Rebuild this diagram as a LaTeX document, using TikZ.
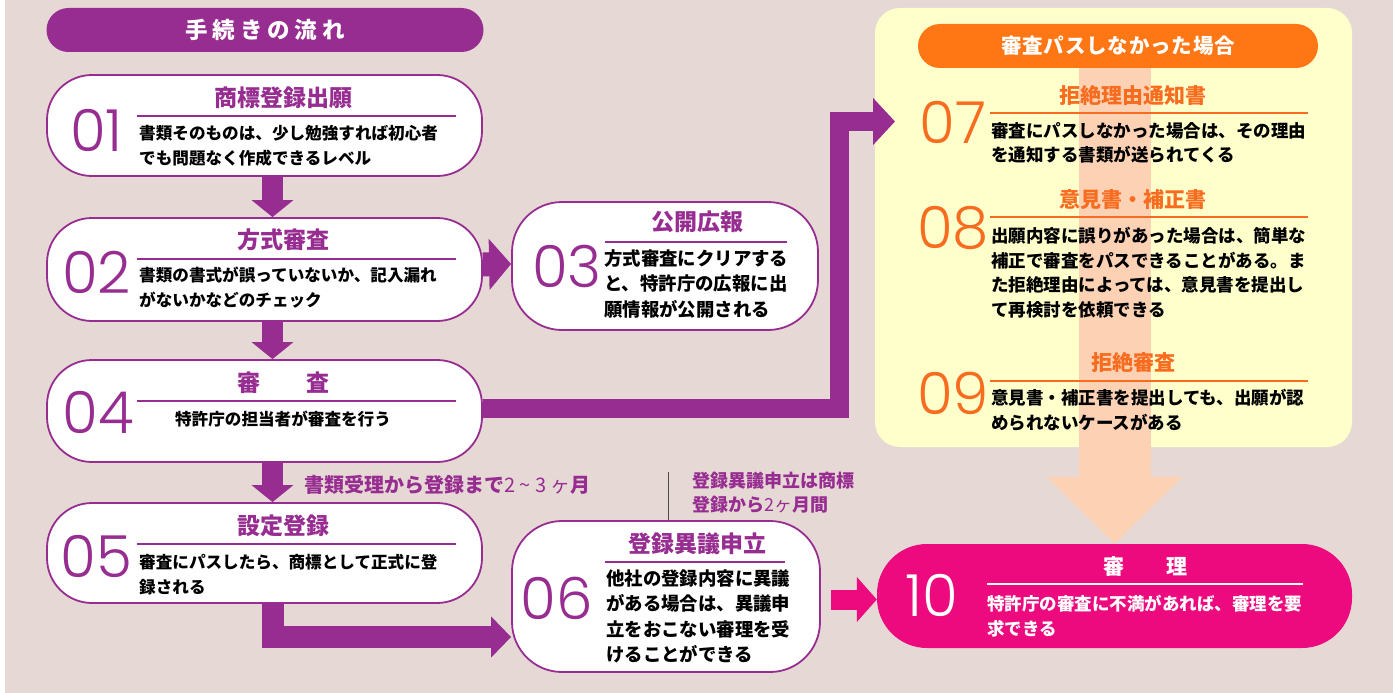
\documentclass[tikz,border=0pt]{standalone}
\usepackage{fontspec}
\setmainfont{Noto Sans CJK JP}
\newfontfamily\numfont{Poppins Light}
\usetikzlibrary{arrows.meta,calc}
\pgfdeclarelayer{back}
\pgfsetlayers{back,main}
\definecolor{bg}{RGB}{230,217,213}
\definecolor{pur}{RGB}{151,45,145}
\definecolor{org}{RGB}{255,118,20}
\definecolor{orgtxt}{RGB}{248,108,32}
\definecolor{pnk}{RGB}{237,10,127}
\definecolor{ylw}{RGB}{255,255,204}
\definecolor{peach}{RGB}{253,210,180}
\begin{document}
\begin{tikzpicture}[x=1pt,y=-1pt,
  pill/.style={draw=pur, line width=1.8pt, fill=white, inner sep=0pt, rounded corners=#1},
  pill/.default=45pt,
  hdr/.style={inner sep=0pt, rounded corners=22pt, minimum height=44pt},
  num/.style={font=\numfont\fontsize{58}{58}\selectfont, inner sep=0pt, text=pur},
  ttl/.style={font=\bfseries\fontsize{23}{23}\selectfont, inner sep=0pt, text=pur},
  ttlr/.style={font=\bfseries\fontsize{21}{21}\selectfont, inner sep=0pt, text=orgtxt},
  body/.style={font=\bfseries\fontsize{16.6}{25}\selectfont, inner sep=0pt, align=left, anchor=west},
  bodyb/.style={font=\bfseries\fontsize{18.4}{25.5}\selectfont, inner sep=0pt, align=left, anchor=west},
  bodyc/.style={font=\bfseries\fontsize{17.5}{24.5}\selectfont, inner sep=0pt, align=left, anchor=west},
  uline/.style={line width=2pt},
  blk/.style={draw=pur, line join=miter},
]
\useasboundingbox (0,0) rectangle (1393,693);
\begin{pgfonlayer}{back}
  \fill[white] (0,0) rectangle (1393,693);
  \fill[bg] (5,0) rectangle (1393,693);
  \fill[ylw, rounded corners=25pt] (875,8) rectangle (1352,447);
\end{pgfonlayer}

% header left
\node[hdr, fill=pur, minimum width=437pt, text=white,
  font=\bfseries\fontsize{22.5}{22.5}\selectfont\addfontfeature{LetterSpace=22}] (h1) at (265,30) {手続きの流れ};

% 01
\node[pill, minimum width=435pt, minimum height=101pt] (n01) at (264.5,125.5) {};
\node[num] (d01) at (96.5,130) {01};
\node[ttl] (t01) at (283,98) {商標登録出願};
\draw[pur, uline] (137,116) -- (456,116);
\node[body] (b01) at (139,145.5) {書類そのものは、少し勉強すれば初心者\\でも問題なく作成できるレベル};

% 02
\node[pill, minimum width=435pt, minimum height=103pt] (n02) at (264.5,269.5) {};
\node[num] (d02) at (96.5,272) {02};
\node[ttl] (t02) at (283,240) {方式審査};
\draw[pur, uline] (137,259) -- (456,259);
\node[body] (b02) at (139,288) {書類の書式が誤っていないか、記入漏れ\\がないかなどのチェック};

% 03
\node[pill=50pt, minimum width=306pt, minimum height=128pt] (n03) at (665,266) {};
\node[num] (d03) at (567,266) {03};
\node[ttl] (t03) at (697,222) {公開広報};
\draw[pur, uline] (605,242) -- (787,242);
\node[bodyb] (b03) at (604,283.5) {方式審査にクリアする\\と、特許庁の広報に出\\願情報が公開される};

% 04
\node[pill, minimum width=435pt, minimum height=102pt] (n04) at (264.5,411) {};
\node[num] (d04) at (98,412) {04};
\node[ttl] (t04) at (283,383) {審　　査};
\draw[pur, uline] (137,401) -- (456,401);
\node[body, anchor=center] (b04) at (283,419) {特許庁の担当者が審査を行う};

% label
\node[font=\bfseries\fontsize{20}{20}\selectfont, text=pur, inner sep=0pt, anchor=west] (lab1) at (304,485)
  {書類受理から登録まで{\mdseries 2 \textasciitilde{} 3 ヶ}月};

% 05
\node[pill, minimum width=435pt, minimum height=100pt] (n05) at (264.5,553) {};
\node[num] (d05) at (96.5,556) {05};
\node[ttl] (t05) at (283,526) {設定登録};
\draw[pur, uline] (137,544) -- (456,544);
\node[body] (b05) at (139,574.5) {審査にパスしたら、商標として正式に登\\録される};

% 06
\node[pill=50pt, minimum width=308pt, minimum height=151pt] (n06) at (666,596.5) {};
\node[num] (d06) at (557,598) {06};
\node[ttl] (t06) at (697,544) {登録異議申立};
\draw[pur, uline] (605,562) -- (785,562);
\node[bodyb] (b06) at (606,616.5) {他社の登録内容に異議\\がある場合は、異議申\\立をおこない審理を受\\けることができる};
\node[font=\bfseries\fontsize{18}{24}\selectfont, text=pur, inner sep=0pt, anchor=west, align=left] (lab2) at (692,493)
  {登録異議申立は商標\\登録から{\mdseries 2ヶ}月間};
\coordinate (v1) at (668,472);

% right panel header
\node[hdr, fill=org, minimum width=400pt, text=white,
  font=\bfseries\fontsize{20.5}{20.5}\selectfont\addfontfeature{LetterSpace=4}] (h2) at (1118,46) {審査パスしなかった場合};

% 07
\coordinate (tip07) at (895,121.5);
\node[num, text=orgtxt] (d07) at (953,122) {07};
\node[ttlr] (t07) at (1133,96) {拒絶理由通知書};
\draw[orgtxt, uline] (990,113) -- (1308,113);
\node[bodyc] (b07) at (991,143) {審査にパスしなかった場合は、その理由\\を通知する書類が送られてくる};

% 08
\node[num, text=orgtxt] (d08) at (953,228) {08};
\node[ttlr] (t08) at (1133,200) {意見書・補正書};
\draw[orgtxt, uline] (990,217) -- (1308,217);
\node[bodyc] (b08) at (991,272.5) {出願内容に誤りがあった場合は、簡単な\\補正で審査をパスできることがある。ま\\た拒絶理由によっては、意見書を提出し\\て再検討を依頼できる};

% 09
\node[num, text=orgtxt] (d09) at (953,393) {09};
\node[ttlr] (t09) at (1133,363) {拒絶審査};
\draw[orgtxt, uline] (990,381) -- (1308,381);
\node[bodyc] (b09) at (991,410) {意見書・補正書を提出しても、出願が認\\められないケースがある};

% 10
\node[fill=pnk, inner sep=0pt, rounded corners=50pt, minimum width=475pt, minimum height=104pt] (n10) at (1114.5,596) {};
\node[num, text=white] (d10) at (932,595) {10};
\node[ttlr, text=white] (t10) at (1145,567) {審　　理};
\draw[white, uline] (987,584) -- (1303,584);
\node[bodyc, text=white] (b10) at (987,616) {特許庁の審査に不満があれば、審理を要\\求できる};

\begin{pgfonlayer}{back}
  \draw[peach, line width=72pt, -{Triangle[width=132pt,length=67pt]}] (h2.south -| n10.north) -- (n10.north);
  \draw[blk, line width=21pt, -{Triangle[width=41pt,length=17pt]}] ($(n01.south)+(8,0)$) -- ($(n02.north)+(8,0)$);
  \draw[blk, line width=21pt, -{Triangle[width=41pt,length=17pt]}] ($(n02.south)+(8,0)$) -- ($(n04.north)+(8,0)$);
  \draw[blk, line width=21pt, -{Triangle[width=41pt,length=17pt]}] ($(n04.south)+(8,0)$) -- ($(n05.north)+(8,0)$);
  \draw[blk, line width=24pt, -{Triangle[width=50pt,length=22pt]}] ($(n02.east)+(0,-5)$) -- ($(n03.west)+(0,-2)$);
  \draw[blk, line width=19pt, -{Triangle[width=46pt,length=22pt]}] ($(n04.east)+(0,-2.5)$) -| (839.5,121.5) -- (tip07);
  \draw[blk, line width=22pt, -{Triangle[width=40pt,length=20pt]}] ($(n05.south)+(8,0)$) |- ($(n06.west)+(0,40.5)$);
  \draw[pnk, line width=20pt, -{Triangle[width=44pt,length=20pt]}] ($(n06.east)+(10,3)$) -- ($(n10.west)+(0,3.5)$);
  \draw[gray!60!black, line width=1pt] (v1) -- (v1 |- n06.north);
\end{pgfonlayer}
\end{tikzpicture}
\end{document}
